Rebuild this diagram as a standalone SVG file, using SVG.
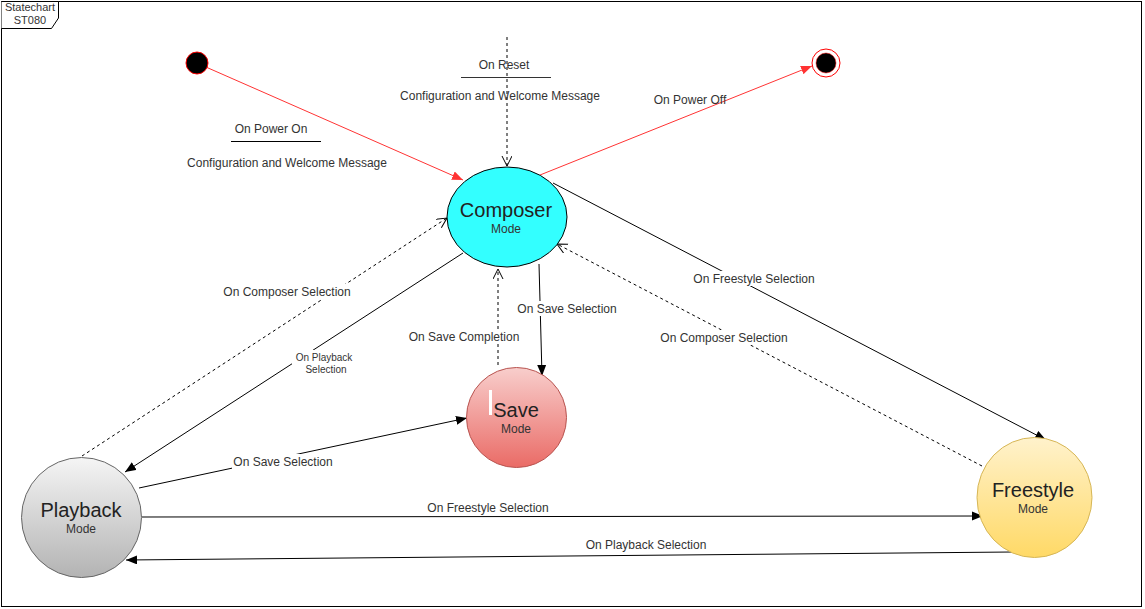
<svg xmlns="http://www.w3.org/2000/svg" width="1145" height="609" viewBox="0 0 1145 609">
<style>
.lbl{font-family:"Liberation Sans",Arial,sans-serif;font-size:12px;fill:#333;text-anchor:middle}
.big{font-family:"Liberation Sans",Arial,sans-serif;font-size:20px;fill:#222;text-anchor:middle}
.sm{font-family:"Liberation Sans",Arial,sans-serif;font-size:11px;fill:#333;text-anchor:middle}
.md{font-family:"Liberation Sans",Arial,sans-serif;font-size:12px;fill:#333;text-anchor:middle}
.sol{stroke:#000;stroke-width:1;fill:none;marker-end:url(#af)}
.dsh{stroke:#000;stroke-width:1;fill:none;stroke-dasharray:3,3;marker-end:url(#ao)}
.red{stroke:#ff3333;stroke-width:1;fill:none;marker-end:url(#ar)}
.bg{fill:#fff}
</style>
<defs>
<marker id="af" markerUnits="userSpaceOnUse" markerWidth="12" markerHeight="10" refX="11" refY="4.5" orient="auto"><path d="M0,0 L11,4.5 L0,9 z" fill="#000"/></marker>
<marker id="ar" markerUnits="userSpaceOnUse" markerWidth="12" markerHeight="10" refX="11" refY="4.5" orient="auto"><path d="M0,0 L11,4.5 L0,9 z" fill="#ff3333"/></marker>
<marker id="ao" markerUnits="userSpaceOnUse" markerWidth="12" markerHeight="12" refX="10" refY="5" orient="auto"><path d="M0,0 L10,5 L0,10" fill="none" stroke="#000"/></marker>
<linearGradient id="gSave" x1="0" y1="0" x2="0" y2="1"><stop offset="0" stop-color="#f8cecc"/><stop offset="1" stop-color="#ea6b66"/></linearGradient>
<linearGradient id="gPlay" x1="0" y1="0" x2="0" y2="1"><stop offset="0" stop-color="#f5f5f5"/><stop offset="1" stop-color="#b3b3b3"/></linearGradient>
<linearGradient id="gFree" x1="0" y1="0" x2="0" y2="1"><stop offset="0" stop-color="#fff2cc"/><stop offset="1" stop-color="#ffd966"/></linearGradient>
</defs>
<rect x="0" y="0" width="1145" height="609" fill="#fff"/>
<g id="frame">
<rect x="1.5" y="1.5" width="1140" height="605" fill="none" stroke="#000"/>
<path d="M1.5,1.5 H58.5 V18 L51.5,28.5 H1.5" fill="#fff" stroke="#000"/>
<text x="30" y="11" class="sm" fill="#000">Statechart</text>
<text x="30" y="24" class="sm" fill="#000">ST080</text>
</g>
<g id="connectors">
<line x1="207" y1="67.5" x2="463" y2="180" class="red"/>
<line x1="540" y1="175" x2="812" y2="66" class="red"/>
<line x1="507" y1="37" x2="507" y2="166" class="dsh"/>
<line x1="553" y1="183" x2="1046" y2="440" class="sol"/>
<line x1="982" y1="466" x2="557" y2="244" class="dsh"/>
<line x1="539" y1="264" x2="542" y2="376" class="sol"/>
<line x1="498" y1="365" x2="498" y2="269" class="dsh"/>
<line x1="463" y1="253" x2="125" y2="472" class="sol"/>
<line x1="82" y1="456" x2="447" y2="218" class="dsh"/>
<line x1="139" y1="488" x2="467" y2="418" class="sol"/>
<line x1="142" y1="517" x2="983" y2="516" class="sol"/>
<line x1="1012" y1="552" x2="126" y2="560" class="sol"/>
<g id="labels">
<text x="271" y="133" class="lbl">On Power On</text>
<line x1="231" y1="141.5" x2="321" y2="141.5" stroke="#000"/>
<text x="287" y="167" class="lbl">Configuration and Welcome Message</text>
<text x="504" y="69" class="lbl">On Reset</text>
<line x1="461" y1="77.5" x2="551" y2="77.5" stroke="#333"/>
<text x="500" y="100" class="lbl">Configuration and Welcome Message</text>
<text x="690" y="104" class="lbl">On Power Off</text>
<rect x="692" y="271" width="125" height="15" class="bg"/>
<text x="754" y="283" class="lbl">On Freestyle Selection</text>
<rect x="658" y="330" width="132" height="15" class="bg"/>
<text x="724" y="342" class="lbl">On Composer Selection</text>
<rect x="516" y="301" width="103" height="15" class="bg"/>
<text x="567" y="313" class="lbl">On Save Selection</text>
<rect x="407" y="329" width="115" height="15" class="bg"/>
<text x="464" y="341" class="lbl">On Save Completion</text>
<rect x="292" y="350" width="64" height="27" class="bg"/>
<text x="324" y="361" class="lbl" style="font-size:10px">On Playback</text>
<text x="326" y="373" class="lbl" style="font-size:10px">Selection</text>
<rect x="221" y="284" width="132" height="15" class="bg"/>
<text x="287" y="296" class="lbl">On Composer Selection</text>
<rect x="232" y="454" width="103" height="15" class="bg"/>
<text x="283" y="466" class="lbl">On Save Selection</text>
<rect x="426" y="500" width="125" height="15" class="bg"/>
<text x="488" y="512" class="lbl">On Freestyle Selection</text>
<rect x="584" y="537" width="125" height="15" class="bg"/>
<text x="646" y="549" class="lbl">On Playback Selection</text>
</g>
</g>
<g id="initial"><circle cx="197" cy="63" r="11" fill="#000" stroke="#ff0000"/></g>
<g id="final"><circle cx="826" cy="63" r="14" fill="#fff" stroke="#ff0000"/><circle cx="826" cy="63" r="10" fill="#000" stroke="#ff0000" stroke-width="0.5"/></g>
<g id="composer"><ellipse cx="507" cy="217" rx="60" ry="50" fill="#33ffff" stroke="#000"/>
<text x="506" y="217" class="big">Composer</text><text x="506" y="233" class="md">Mode</text></g>
<g id="save"><circle cx="516.5" cy="417.5" r="50" fill="url(#gSave)" stroke="#b85450"/>
<rect x="489" y="390" width="3" height="25" fill="#fff"/>
<text x="516" y="417" class="big">Save</text><text x="516" y="433" class="md">Mode</text></g>
<g id="playback"><circle cx="81.5" cy="517.5" r="60" fill="url(#gPlay)" stroke="#666"/>
<text x="81" y="517" class="big">Playback</text><text x="81" y="533" class="md">Mode</text></g>
<g id="freestyle"><ellipse cx="1034.5" cy="497.5" rx="57.5" ry="60" fill="url(#gFree)" stroke="#d6b656"/>
<text x="1033" y="497" class="big">Freestyle</text><text x="1033" y="513" class="md">Mode</text></g>
</svg>
